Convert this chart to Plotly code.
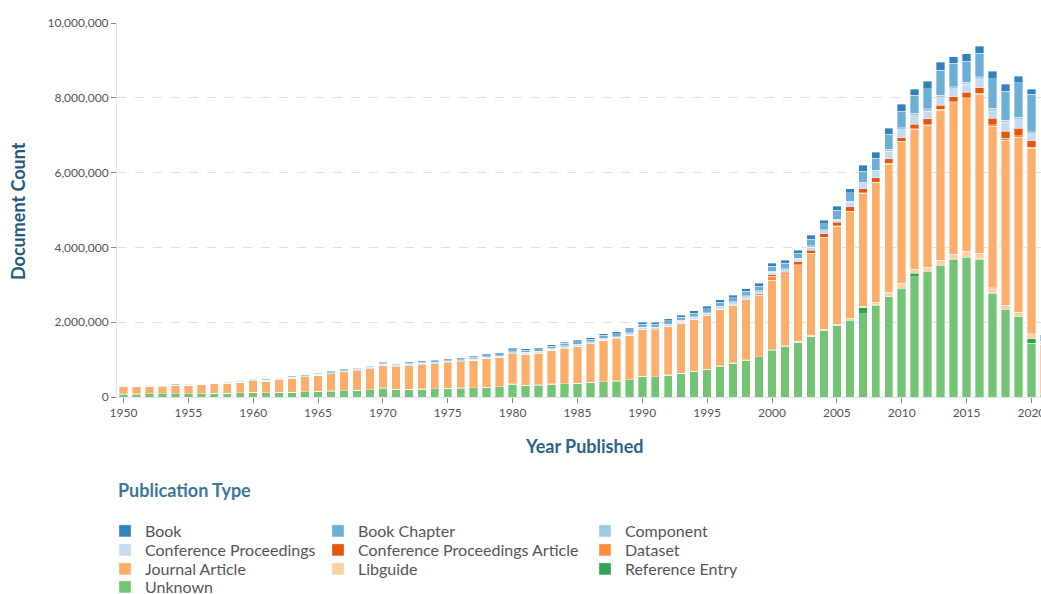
import plotly.graph_objects as go

years = list(range(1950, 2022))

# values in thousands of documents
unknown = [80, 80, 82, 82, 83, 85, 88, 95, 100, 108,
           125, 115, 120, 130, 140, 150, 160, 170, 180, 195,
           240, 200, 205, 212, 222, 230, 240, 248, 258, 275,
           345, 310, 320, 345, 355, 365, 390, 408, 427, 462,
           540, 535, 577, 622, 675, 730, 818, 898, 978, 1070,
           1240, 1340, 1460, 1620, 1780, 1900, 2040, 2220, 2460, 2690,
           2900, 3220, 3350, 3510, 3680, 3730, 3680, 2780, 2330, 2140,
           1440, 40]
reference_entry = [1] * 40 + [3] * 10 + [8, 8, 8, 8, 8, 10, 10, 160, 10, 10,
                                         10, 90, 10, 10, 10, 10, 10, 10, 10, 10, 116, 30]
libguide = [2] * 30 + [4] * 10 + [10] * 10 + [20, 20, 20, 20, 20, 40, 50, 50, 60, 100,
                                              125, 107, 107, 142, 133, 160, 160, 133, 116, 110, 133, 20]
journal_article = [189, 194, 200, 209, 216, 224, 234, 250, 263, 278,
                   309, 307, 334, 364, 399, 429, 457, 498, 524, 559,
                   604, 604, 629, 644, 665, 688, 704, 726, 771, 779,
                   803, 830, 848, 895, 950, 985, 1025, 1100, 1125, 1186,
                   1247, 1249, 1292, 1337, 1384, 1434, 1516, 1539, 1614, 1642,
                   1852, 1907, 2027, 2177, 2447, 2620, 2860, 3020, 3200, 3430,
                   3795, 3743, 3803, 4008, 4047, 4080, 4250, 4317, 4414, 4680,
                   4961, 1320]
dataset = [1] * 40 + [5] * 10 + [110, 15, 15, 15, 15, 10, 10, 12, 12, 15,
                                 15, 15, 15, 18, 18, 20, 20, 40, 50, 40, 30, 5]
conf_proc_article = [2] * 30 + [4] * 10 + [8, 8, 8, 8, 8, 8, 8, 15, 20, 25,
                                           40, 50, 90, 90, 100, 89, 116, 107, 116, 125,
                                           89, 116, 151, 107, 142, 151, 151, 170, 190, 200, 175, 20]
conf_proceedings = [8, 8, 9, 9, 10, 10, 11, 11, 12, 13,
                    15, 14, 15, 16, 18, 19, 20, 21, 22, 23,
                    25, 23, 24, 25, 25, 26, 26, 28, 31, 32,
                    30, 29, 28, 30, 31, 31, 31, 32, 34, 35,
                    35, 36, 36, 39, 41, 45, 48, 50, 54, 58,
                    60, 60, 60, 79, 75, 59, 116, 138, 160, 199,
                    212, 234, 207, 207, 207, 207, 234, 207, 234, 234,
                    190, 40]
component = [5, 5, 5, 5, 5, 5, 5, 6, 6, 6,
             7, 7, 7, 8, 8, 9, 9, 10, 10, 11,
             12, 11, 12, 12, 13, 13, 14, 14, 15, 16,
             17, 17, 17, 18, 18, 19, 19, 20, 20, 20,
             20, 20, 21, 22, 22, 23, 24, 25, 26, 27,
             30, 30, 30, 35, 30, 30, 35, 40, 45, 50,
             55, 60, 60, 60, 60, 60, 60, 60, 60, 60,
             50, 15]
book_chapter = [8, 8, 9, 9, 10, 10, 11, 11, 12, 13,
                15, 14, 15, 17, 19, 21, 22, 23, 25, 27,
                32, 30, 32, 33, 35, 37, 39, 41, 45, 47,
                60, 60, 62, 65, 68, 70, 73, 76, 79, 81,
                84, 86, 88, 92, 97, 104, 108, 113, 122, 128,
                140, 140, 140, 176, 160, 231, 222, 285, 320, 400,
                445, 480, 534, 676, 623, 561, 623, 792, 774, 934,
                997, 150]
book = [4, 4, 4, 5, 5, 5, 5, 6, 6, 6,
        8, 7, 8, 9, 10, 11, 11, 12, 13, 14,
        16, 16, 17, 18, 19, 20, 21, 22, 24, 25,
        35, 34, 35, 37, 38, 40, 42, 44, 45, 46,
        48, 48, 50, 52, 55, 58, 60, 62, 68, 72,
        80, 80, 80, 100, 95, 107, 107, 160, 160, 169,
        178, 160, 205, 214, 178, 205, 196, 205, 187, 169,
        142, 30]

# bottom-to-top stacking order: (name, values, colour, legend column, legend row)
series = [
    ("Unknown", unknown, "#74c476", 0, 3),
    ("Reference Entry", reference_entry, "#31a354", 2, 2),
    ("Libguide", libguide, "#fdd0a2", 1, 2),
    ("Journal Article", journal_article, "#fdae6b", 0, 2),
    ("Dataset", dataset, "#fd8d3c", 2, 1),
    ("Conference Proceedings Article", conf_proc_article, "#e6550d", 1, 1),
    ("Conference Proceedings", conf_proceedings, "#c6dbef", 0, 1),
    ("Component", component, "#9ecae1", 2, 0),
    ("Book Chapter", book_chapter, "#6baed6", 1, 0),
    ("Book", book, "#3182bd", 0, 0),
]

W, H = 1041, 594
ML, MT, MB = 117, 23, 197
PW, PH = W - ML, H - MT - MB
font_family = "Lato, 'Noto Sans', sans-serif"
title_color = "#2a6585"
col_x = [105, 318, 585]
row_y = [531, 550, 569, 587]


def px_x(x):
    return (x - ML) / PW


def px_y(y):
    return (H - MB - y) / PH


fig = go.Figure()
legends = {}
for i, (name, vals, color, col, row) in enumerate(series):
    key = "legend" if i == 0 else f"legend{i + 1}"
    fig.add_trace(go.Bar(
        x=years, y=[v * 1000 for v in vals], name=name, legend=key,
        marker=dict(color=color, line=dict(color="rgba(255,255,255,0.6)", width=0.6)),
    ))
    legends[key] = dict(
        orientation="v", xref="container", yref="container",
        x=col_x[col] / W, y=1 - row_y[row] / H,
        xanchor="left", yanchor="middle", bgcolor="rgba(0,0,0,0)",
        font=dict(size=16, color="#555555", family=font_family),
        itemwidth=30, itemclick=False, itemdoubleclick=False,
    )

fig.update_layout(
    width=W, height=H,
    margin=dict(l=ML, r=0, t=MT, b=MB, autoexpand=False),
    plot_bgcolor="white", paper_bgcolor="white",
    barmode="stack", bargap=0.35,
    font=dict(family=font_family, color="#555555"),
    showlegend=True,
    xaxis=dict(
        range=[1949.5, 2020.74], tickmode="array",
        tickvals=list(range(1950, 2021, 5)),
        ticks="outside", ticklen=5, tickcolor="#888888",
        tickfont=dict(size=12, color="#555555"), ticklabeloverflow="allow",
        showgrid=False, showline=True, linecolor="#dfe6f0", zeroline=False,
    ),
    yaxis=dict(
        range=[0, 10_000_000], tickmode="array",
        tickvals=[0, 2_000_000, 4_000_000, 6_000_000, 8_000_000, 10_000_000],
        tickformat=",", ticks="outside", ticklen=5, tickcolor="#888888",
        tickfont=dict(size=12, color="#555555"),
        showgrid=True, gridcolor="#d9e1ee", griddash="dash", gridwidth=1,
        showline=True, linecolor="#dfe6f0", zeroline=False,
    ),
    annotations=[
        dict(text="<b>Publication Type</b>", xref="paper", yref="paper",
             x=px_x(116), y=px_y(490), xanchor="left", yanchor="middle",
             showarrow=False, font=dict(size=18, color="#3b7896", family=font_family)),
        dict(text="<b>Year Published</b>", xref="paper", yref="paper",
             x=px_x(584), y=px_y(446), xanchor="center", yanchor="middle",
             showarrow=False, font=dict(size=18, color=title_color, family=font_family)),
        dict(text="<b>Document Count</b>", xref="paper", yref="paper",
             x=px_x(18), y=px_y(211), xanchor="center", yanchor="middle", textangle=-90,
             showarrow=False, font=dict(size=18, color="#1f5a7a", family=font_family)),
    ],
)
fig.update_layout(**legends)

fig.write_html("out.html", config={"displayModeBar": False},
               post_script="document.body.style.margin='0px';")
